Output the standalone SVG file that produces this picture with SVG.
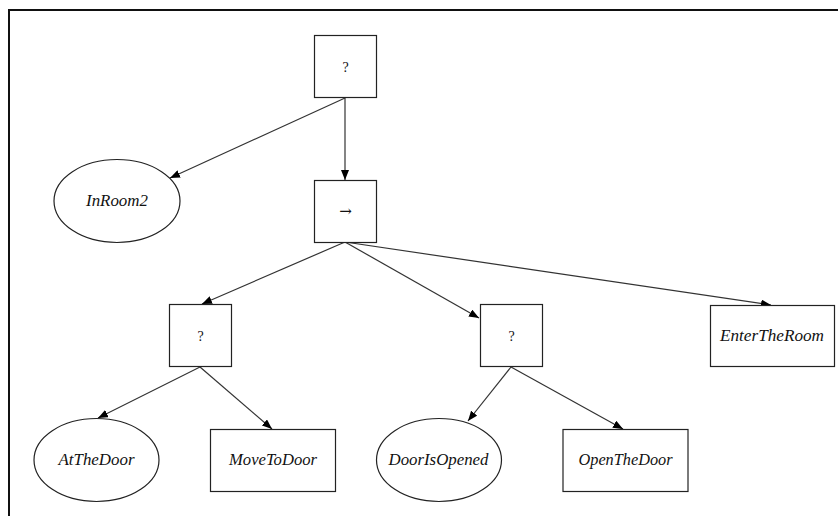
<svg xmlns="http://www.w3.org/2000/svg" width="838" height="516" viewBox="0 0 838 516">
<style>
.node rect, .node ellipse { fill: #fff; stroke: #222; stroke-width: 1.2; }
.lbl { font-family: "Liberation Serif", serif; font-style: italic; font-size: 16.5px; fill: #111; text-anchor: middle; }
.op { font-family: "Liberation Serif", serif; font-size: 14px; fill: #111; text-anchor: middle; }
.arr { font-family: "DejaVu Serif", serif; font-size: 15px; fill: #111; text-anchor: middle; }
#edges line { stroke: #333; stroke-width: 1.2; marker-end: url(#ah); }
</style>
<defs>
<marker id="ah" viewBox="0 0 10 8" refX="10" refY="4" markerWidth="10" markerHeight="8" markerUnits="userSpaceOnUse" orient="auto">
<path d="M0,0 L10,4 L0,8 Z" fill="#000"/>
</marker>
</defs>
<rect width="838" height="516" fill="#fff"/>
<path d="M9,516 V10 H838" fill="none" stroke="#111" stroke-width="2"/>
<g id="edges">
<line x1="345" y1="98" x2="170" y2="178"/>
<line x1="345" y1="98" x2="345" y2="180"/>
<line x1="345" y1="242" x2="202" y2="304"/>
<line x1="345" y1="242" x2="479" y2="318"/>
<line x1="345" y1="242" x2="771" y2="305"/>
<line x1="200" y1="367" x2="98" y2="418"/>
<line x1="200" y1="367" x2="272" y2="429"/>
<line x1="511" y1="367" x2="468" y2="421"/>
<line x1="511" y1="367" x2="623" y2="429"/>
</g>
<g id="root" class="node"><rect x="314.5" y="35.5" width="62" height="62"/><text class="op" x="345.5" y="71.5">?</text></g>
<g id="inroom2" class="node"><ellipse cx="117" cy="201" rx="63" ry="41.5"/><text class="lbl" x="117" y="206" textLength="62" lengthAdjust="spacingAndGlyphs">InRoom2</text></g>
<g id="sequence" class="node"><rect x="314.5" y="180.5" width="62" height="62"/><text class="arr" x="345.5" y="216">→</text></g>
<g id="fallback1" class="node"><rect x="169.5" y="304.5" width="62" height="62"/><text class="op" x="200.5" y="340.5">?</text></g>
<g id="fallback2" class="node"><rect x="480.5" y="304.5" width="62" height="62"/><text class="op" x="511.5" y="340.5">?</text></g>
<g id="entertheroom" class="node"><rect x="710.5" y="305.5" width="124" height="61"/><text class="lbl" x="772" y="341" textLength="104" lengthAdjust="spacingAndGlyphs">EnterTheRoom</text></g>
<g id="atthedoor" class="node"><ellipse cx="96.5" cy="460" rx="62.5" ry="41.5"/><text class="lbl" x="96.5" y="465" textLength="76" lengthAdjust="spacingAndGlyphs">AtTheDoor</text></g>
<g id="movetodoor" class="node"><rect x="210.5" y="429.5" width="125" height="62"/><text class="lbl" x="273" y="465" textLength="88" lengthAdjust="spacingAndGlyphs">MoveToDoor</text></g>
<g id="doorisopened" class="node"><ellipse cx="439" cy="460" rx="62.5" ry="41.5"/><text class="lbl" x="438.5" y="465" textLength="100" lengthAdjust="spacingAndGlyphs">DoorIsOpened</text></g>
<g id="openthedoor" class="node"><rect x="563" y="429.5" width="125" height="62"/><text class="lbl" x="625.5" y="465" textLength="94" lengthAdjust="spacingAndGlyphs">OpenTheDoor</text></g>
</svg>
